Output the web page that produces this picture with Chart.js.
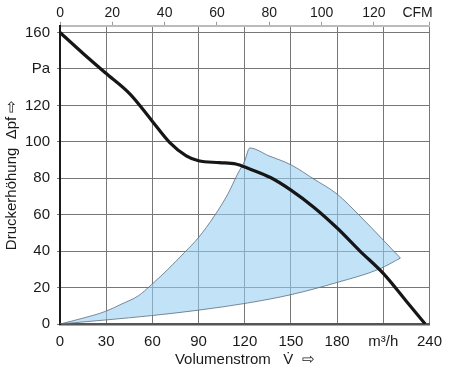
<!DOCTYPE html>
<html>
<head>
<meta charset="utf-8">
<script src="https://cdn.jsdelivr.net/npm/chart.js@4/dist/chart.umd.min.js"></script>
<style>
  html, body { margin: 0; padding: 0; background: #fff; }
  #wrap { width: 451px; height: 371px; }
</style>
</head>
<body>
<div id="wrap"><canvas id="fanChart"></canvas></div>
<script>
// Kennlinie: Volumenstrom (m³/h) und Druckerhöhung (Pa)
const curveFlow = [0, 15, 29.4, 45.5, 59.4, 71.3, 82, 90, 103.5, 114.2, 121.7, 136.7, 150, 165, 180, 194.7, 210.4, 224.7, 237.2];
const curvePressure = [160, 148.5, 137.9, 126.2, 111.9, 99.6, 92.3, 89.6, 88.6, 87.8, 85.6, 80.4, 73.5, 64, 52.7, 40.2, 27.4, 12.8, 0];

// Arbeitsbereich (blaue Flaeche): obere Grenze (linke Flanke + Bogen) und untere Grenze
const upperFlow = [0, 14.4, 29.4, 40.1, 50.9, 59.4, 69.1, 80.9, 90, 100.3, 109, 115.3, 120, 123.2, 135.7, 150, 165, 180, 194.7, 210.4, 221.1];
const upperPressure = [0, 3.1, 6.9, 11, 15.5, 21.6, 29.2, 39.3, 47.5, 59.4, 71.3, 82.3, 89.6, 96.6, 92.3, 87.4, 79.5, 71.3, 59.4, 45.7, 36.2];
const lowerFlow = [0, 29.4, 59.4, 90, 121.7, 150, 180, 207.5, 221.1];
const lowerPressure = [0, 2.2, 4.6, 7.6, 11.5, 16.1, 22.8, 30.2, 36.2];

// Achsen
const flowTicks = [0, 30, 60, 90, 120, 150, 180, 210, 240];
const pressureTicks = [0, 20, 40, 60, 80, 100, 120, 140, 160];
const cfmTicks = [0, 20, 40, 60, 80, 100, 120];
const cfmLabelAt = 136.7;
const flowMax = 240;
const cfmPerM3h = 0.58858;
const cfmMax = flowMax * cfmPerM3h;

const toPoints = (xs, ys) => xs.map((x, i) => ({ x: x, y: ys[i] }));
const setTicks = (values) => (axis) => { axis.ticks = values.map((v) => ({ value: v })); };

Chart.defaults.font.family = "'Liberation Sans', Arial, sans-serif";
Chart.defaults.font.size = 15;
Chart.defaults.color = "#1a1a1a";

const gridColor = "#777";
const areaBorder = "#5d6d7e";
const areaFill = "rgba(150, 205, 243, 0.58)";

const ctx = document.getElementById("fanChart").getContext("2d");
const fanChart = new Chart(ctx, {
  type: "scatter",
  data: {
    datasets: [
      {
        label: "Kennlinie",
        data: toPoints(curveFlow, curvePressure),
        showLine: true,
        borderColor: "#161616",
        borderWidth: 3.2,
        pointRadius: 0,
        cubicInterpolationMode: "monotone",
        fill: false,
        order: 0,
      },
      {
        label: "untere Grenze",
        data: toPoints(lowerFlow, lowerPressure),
        showLine: true,
        borderColor: areaBorder,
        borderWidth: 0.8,
        pointRadius: 0,
        cubicInterpolationMode: "monotone",
        fill: false,
        order: 1,
      },
      {
        label: "obere Grenze",
        data: toPoints(upperFlow, upperPressure),
        showLine: true,
        borderColor: areaBorder,
        borderWidth: 0.8,
        backgroundColor: areaFill,
        pointRadius: 0,
        cubicInterpolationMode: "monotone",
        fill: 1,
        order: 2,
      },
    ],
  },
  options: {
    responsive: true,
    maintainAspectRatio: false,
    animation: false,
    layout: { padding: { left: 0, right: 14, top: 5, bottom: 2 } },
    plugins: {
      legend: { display: false },
      tooltip: { enabled: false },
    },
    scales: {
      x: {
        type: "linear",
        position: "bottom",
        min: 0,
        max: flowMax,
        afterBuildTicks: setTicks(flowTicks),
        ticks: {
          padding: 9,
          maxRotation: 0,
          autoSkip: false,
          callback: (v) => (v === 210 ? "m³/h" : v),
        },
        grid: { color: gridColor, lineWidth: 1, drawTicks: false, tickLength: 0 },
        border: { color: "#555", width: 2.5 },
        title: {
          display: true,
          text: "Volumenstrom   V̇  ⇨",
          padding: { top: -9, bottom: 0 },
        },
      },
      x2: {
        type: "linear",
        position: "top",
        min: 0,
        max: cfmMax,
        afterBuildTicks: (axis) => {
          axis.ticks = cfmTicks.concat([cfmLabelAt, cfmMax]).map((v) => ({ value: v }));
        },
        ticks: {
          padding: 0,
          maxRotation: 0,
          autoSkip: false,
          font: { size: 14 },
          callback: (v) => (v === cfmLabelAt ? "CFM" : v > cfmLabelAt ? "" : v),
        },
        grid: {
          drawOnChartArea: false,
          color: (c) => (c.tick && c.tick.value === cfmLabelAt ? "rgba(0,0,0,0)" : "#999"),
          tickLength: 4,
          lineWidth: 1,
        },
        border: { color: "#bbb", width: 2 },
      },
      y: {
        min: 0,
        max: 163.7,
        afterBuildTicks: setTicks(pressureTicks),
        ticks: {
          padding: 7,
          callback: (v) => (v === 140 ? "Pa" : v),
        },
        grid: { color: gridColor, lineWidth: 1, tickLength: 3 },
        border: { color: "#1a1a1a", width: 2 },
        title: {
          display: true,
          text: "Druckerhöhung  Δpf ⇨",
          padding: { top: 3, bottom: -3 },
        },
      },
    },
  },
});
</script>
</body>
</html>
